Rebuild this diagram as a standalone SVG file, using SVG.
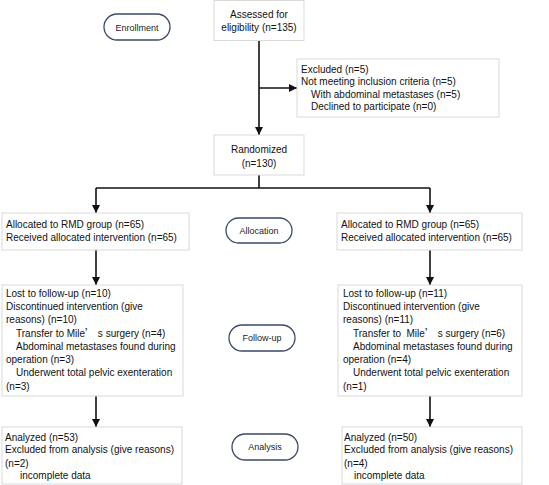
<svg xmlns="http://www.w3.org/2000/svg" width="549" height="485" viewBox="0 0 549 485">
<style>
.box{fill:#fff;stroke:#d9d9d9;stroke-width:1}
.pill{fill:#fff;stroke:#3b4a68;stroke-width:1.3}
.t{font-family:"Liberation Sans",Arial,sans-serif;font-size:10px;fill:#111;white-space:pre}
.c{text-anchor:middle}
.cjk{font-family:"Noto Sans CJK SC",sans-serif}
.p{font-family:"Liberation Sans",Arial,sans-serif;font-size:9px;fill:#222;text-anchor:middle}
.ln{stroke:#111;stroke-width:1.6;fill:none}
</style>
<defs>
<marker id="ah" viewBox="0 0 10 10" refX="10" refY="5" markerWidth="5" markerHeight="5" orient="auto" markerUnits="strokeWidth">
<path d="M0,0 L10,5 L0,10 z" fill="#111"/>
</marker>
</defs>
<rect width="549" height="485" fill="#fff"/>
<g id="connectors">
<path class="ln" d="M259,40 V135" marker-end="url(#ah)"/>
<path class="ln" d="M259,88 H297" marker-end="url(#ah)"/>
<path class="ln" d="M259,175 V188"/>
<path class="ln" d="M96,188 H430"/>
<path class="ln" d="M96,188 V213" marker-end="url(#ah)"/>
<path class="ln" d="M430,188 V213" marker-end="url(#ah)"/>
<path class="ln" d="M96,250 V285" marker-end="url(#ah)"/>
<path class="ln" d="M430,250 V285" marker-end="url(#ah)"/>
<path class="ln" d="M96,396 V427" marker-end="url(#ah)"/>
<path class="ln" d="M430,396 V427" marker-end="url(#ah)"/>
</g>
<g id="enrollment">
<rect class="pill" x="104" y="14" width="66" height="26" rx="13"/>
<text class="p" x="137" y="30.5">Enrollment</text>
</g>
<g id="assessed">
<rect class="box" x="214" y="0.5" width="90" height="40"/>
<text class="t c" x="259" y="17.5">Assessed for</text>
<text class="t c" x="259" y="30.5">eligibility (n=135)</text>
</g>
<g id="excluded">
<rect class="box" x="297" y="59" width="202" height="58"/>
<text class="t" x="301" y="72.5">Excluded (n=5)</text>
<text class="t" x="301" y="85">Not meeting inclusion criteria (n=5)</text>
<text class="t" x="311" y="97.5">With abdominal metastases (n=5)</text>
<text class="t" x="311" y="110">Declined to participate (n=0)</text>
</g>
<g id="randomized">
<rect class="box" x="214" y="135" width="90" height="40"/>
<text class="t c" x="259" y="152.5">Randomized</text>
<text class="t c" x="259" y="166.5">(n=130)</text>
</g>
<g id="alloc-left">
<rect class="box" x="2" y="213" width="187" height="37"/>
<text class="t" x="6" y="228">Allocated to RMD group (n=65)</text>
<text class="t" x="6" y="241">Received allocated intervention (n=65)</text>
</g>
<g id="allocation">
<rect class="pill" x="226" y="218" width="66" height="25" rx="12.5"/>
<text class="p" x="259" y="233.5">Allocation</text>
</g>
<g id="alloc-right">
<rect class="box" x="337" y="213" width="185" height="37"/>
<text class="t" x="341" y="228">Allocated to RMD group (n=65)</text>
<text class="t" x="341" y="241">Received allocated intervention (n=65)</text>
</g>
<g id="follow-left">
<rect class="box" x="2" y="285" width="181" height="111"/>
<text class="t" x="6" y="296.5">Lost to follow-up (n=10)</text>
<text class="t" x="6" y="310">Discontinued intervention (give</text>
<text class="t" x="6" y="323">reasons) (n=10)</text>
<text class="t" x="16" y="336.5">Transfer to Mile<tspan class="cjk">’</tspan> s surgery (n=4)</text>
<text class="t" x="16" y="349.5">Abdominal metastases found during</text>
<text class="t" x="6" y="362.5">operation (n=3)</text>
<text class="t" x="16" y="376">Underwent total pelvic exenteration</text>
<text class="t" x="6" y="389.5">(n=3)</text>
</g>
<g id="followup">
<rect class="pill" x="229" y="325" width="66" height="26" rx="13"/>
<text class="p" x="262" y="341">Follow-up</text>
</g>
<g id="follow-right">
<rect class="box" x="338" y="285" width="184" height="111"/>
<text class="t" x="343" y="296.5">Lost to follow-up (n=11)</text>
<text class="t" x="343" y="310">Discontinued intervention (give</text>
<text class="t" x="343" y="323">reasons) (n=11)</text>
<text class="t" x="353" y="336.5">Transfer to  Mile<tspan class="cjk">’</tspan> s surgery (n=6)</text>
<text class="t" x="353" y="349.5">Abdominal metastases found during</text>
<text class="t" x="343" y="362.5">operation (n=4)</text>
<text class="t" x="353" y="376">Underwent total pelvic exenteration</text>
<text class="t" x="343" y="389.5">(n=1)</text>
</g>
<g id="analysis-left">
<rect class="box" x="2" y="427" width="180" height="57"/>
<text class="t" x="5" y="440.5">Analyzed (n=53)</text>
<text class="t" x="5" y="453">Excluded from analysis (give reasons)</text>
<text class="t" x="5" y="466.5">(n=2)</text>
<text class="t" x="20" y="479">incomplete data</text>
</g>
<g id="analysis">
<rect class="pill" x="232" y="434" width="66" height="26" rx="13"/>
<text class="p" x="265" y="450">Analysis</text>
</g>
<g id="analysis-right">
<rect class="box" x="342" y="427" width="180" height="57"/>
<text class="t" x="344" y="440.5">Analyzed (n=50)</text>
<text class="t" x="344" y="453">Excluded from analysis (give reasons)</text>
<text class="t" x="344" y="466.5">(n=4)</text>
<text class="t" x="354" y="479">incomplete data</text>
</g>
</svg>
